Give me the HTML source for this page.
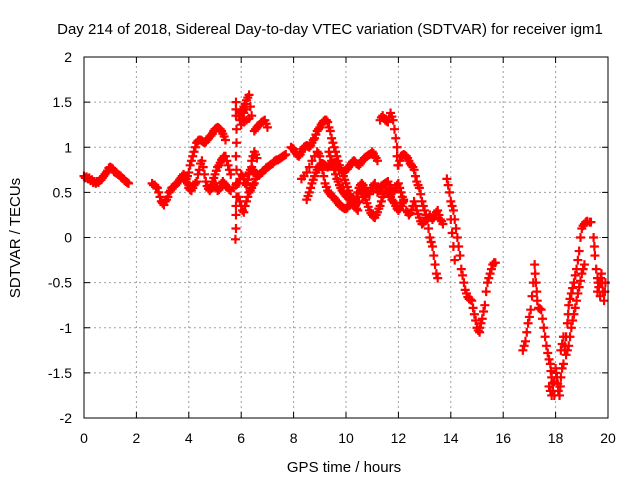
<!DOCTYPE html>
<html><head><meta charset="utf-8"><style>
body{margin:0;background:#fff}
svg{display:block}
text{font-family:"Liberation Sans",sans-serif;font-size:14px;fill:#000}
</style></head><body>
<svg id="chart" width="640" height="480" xmlns="http://www.w3.org/2000/svg">
<rect width="640" height="480" fill="#fff"/>
<text x="330" y="34" text-anchor="middle" style="font-size:15px">Day 214 of 2018, Sidereal Day-to-day VTEC variation (SDTVAR) for receiver igm1</text>
<text x="344" y="472" text-anchor="middle" style="font-size:15px">GPS time / hours</text>
<text transform="translate(20,238) rotate(-90)" text-anchor="middle" style="font-size:15px">SDTVAR / TECUs</text>
<g id="grid"></g><g id="ticks"></g><g id="marks"></g>
<rect x="84" y="57" width="524" height="361" fill="none" stroke="#000" stroke-width="1"/>
</svg>
<script>
const xTicks=[0,2,4,6,8,10,12,14,16,18,20];
const yTicks=[2,1.5,1,0.5,0,-0.5,-1,-1.5,-2];
const yTickLabels=["2","1.5","1","0.5","0","-0.5","-1","-1.5","-2"];
const track1=[[0,0.68],[0.05,0.66],[0.1,0.67],[0.15,0.65],[0.2,0.66],[0.25,0.63],[0.3,0.64],[0.35,0.61],[0.4,0.62],[0.45,0.6],[0.5,0.62],[0.55,0.61],[0.6,0.63],[0.65,0.64],[0.7,0.66],[0.75,0.68],[0.8,0.7],[0.85,0.72],[0.9,0.74],[0.95,0.77],[1.0,0.78],[1.05,0.77],[1.1,0.76],[1.15,0.73],[1.2,0.72],[1.25,0.71],[1.3,0.7],[1.35,0.69],[1.4,0.68],[1.45,0.66],[1.5,0.65],[1.55,0.63],[1.6,0.62],[1.65,0.61],[1.7,0.6]];
const track2=[[2.6,0.6],[2.65,0.58],[2.7,0.58],[2.75,0.56],[2.8,0.55],[2.85,0.5],[2.9,0.45],[2.95,0.4],[3.0,0.38],[3.05,0.36],[3.1,0.4],[3.15,0.42],[3.2,0.45],[3.25,0.5],[3.3,0.52],[3.35,0.55],[3.4,0.56],[3.45,0.57],[3.5,0.58],[3.55,0.6],[3.6,0.62],[3.65,0.64],[3.7,0.66],[3.75,0.68],[3.8,0.7],[3.85,0.67],[3.9,0.65],[3.95,0.6],[4.0,0.58]];
const track3=[[4.0,0.55],[4.05,0.53],[4.1,0.52],[4.15,0.55],[4.2,0.58],[4.25,0.6],[4.3,0.62],[4.35,0.7],[4.4,0.75],[4.45,0.82],[4.5,0.85],[4.55,0.78],[4.6,0.7],[4.65,0.62],[4.7,0.57],[4.75,0.54],[4.8,0.52],[4.85,0.54],[4.9,0.55],[4.95,0.58],[5.0,0.6],[5.05,0.55],[5.1,0.52],[5.15,0.53],[5.2,0.55],[5.25,0.6],[5.3,0.62],[5.35,0.6],[5.4,0.58],[5.45,0.56],[5.5,0.55],[5.55,0.53],[5.6,0.52]];
const track4=[[3.9,0.62],[3.95,0.68],[4.0,0.72],[4.05,0.8],[4.1,0.85],[4.15,0.9],[4.2,0.95],[4.25,1.0],[4.3,1.05],[4.35,1.07],[4.4,1.08],[4.45,1.08],[4.5,1.07],[4.55,1.06],[4.6,1.05],[4.65,1.06],[4.7,1.08],[4.75,1.1],[4.8,1.12],[4.85,1.13],[4.9,1.15],[4.95,1.18],[5.0,1.2],[5.05,1.21],[5.1,1.22],[5.15,1.21],[5.2,1.2],[5.25,1.18],[5.3,1.15],[5.35,1.12],[5.4,1.08]];
const track5=[[4.8,0.55],[4.85,0.58],[4.9,0.62],[4.95,0.66],[5.0,0.7],[5.05,0.74],[5.1,0.78],[5.15,0.8],[5.2,0.83],[5.25,0.86],[5.3,0.88],[5.35,0.9],[5.4,0.9],[5.45,0.85],[5.5,0.8],[5.55,0.75],[5.6,0.7]];
const track6=[[5.8,1.5],[5.8,1.42],[5.8,1.35],[5.82,1.2],[5.82,1.05],[5.8,0.9],[5.82,0.75],[5.82,0.6],[5.82,0.45],[5.8,0.35],[5.8,0.25],[5.8,0.1],[5.78,-0.02]];
const track7=[[5.9,1.35],[5.95,1.38],[6.0,1.4],[6.05,1.42],[6.1,1.45],[6.15,1.48],[6.2,1.52],[6.25,1.55],[6.3,1.58],[6.35,1.45],[6.4,1.35],[6.3,1.32],[6.2,1.3],[6.1,1.28],[6.0,1.25],[6.05,1.32],[6.1,1.38],[6.2,1.42],[5.95,1.3]];
const track8=[[6.5,1.18],[6.55,1.2],[6.6,1.22],[6.65,1.24],[6.7,1.25],[6.75,1.27],[6.8,1.28],[6.85,1.29],[6.9,1.3],[6.95,1.26],[7.0,1.22]];
const track9=[[5.7,0.55],[5.8,0.58],[5.9,0.6],[5.95,0.65],[6.0,0.7],[6.05,0.68],[6.1,0.65],[6.15,0.6],[6.2,0.58],[6.25,0.64],[6.3,0.7],[6.35,0.75],[6.4,0.78],[6.45,0.75],[6.5,0.72],[6.55,0.7],[6.6,0.68],[6.65,0.69],[6.7,0.7],[6.75,0.71],[6.8,0.72],[6.85,0.74],[6.9,0.75],[6.95,0.77],[7.0,0.78],[7.05,0.79],[7.1,0.8],[7.15,0.81],[7.2,0.82],[7.25,0.84],[7.3,0.85],[7.35,0.86],[7.4,0.86],[7.45,0.87],[7.5,0.88],[7.55,0.89],[7.6,0.9],[7.65,0.91],[7.7,0.92]];
const track10=[[5.9,0.45],[5.95,0.4],[6.0,0.35],[6.05,0.3],[6.1,0.28],[6.15,0.35],[6.2,0.4],[6.25,0.45],[6.3,0.5],[6.35,0.52],[6.4,0.55],[6.45,0.58],[6.5,0.6],[6.55,0.65],[6.6,0.7],[6.2,0.6],[6.3,0.72],[6.4,0.85],[6.45,0.9],[6.5,0.95],[6.55,0.92],[6.6,0.88]];
const track11=[[7.9,1.0],[7.95,0.99],[8.0,0.98],[8.05,0.95],[8.1,0.93],[8.15,0.91],[8.2,0.9],[8.25,0.92],[8.3,0.95],[8.35,0.98],[8.4,1.0],[8.45,1.01],[8.5,1.02],[8.55,1.01],[8.6,1.0],[8.65,1.02],[8.7,1.05],[8.75,1.08],[8.8,1.1],[8.85,1.14],[8.9,1.18],[8.95,1.2],[9.0,1.22],[9.05,1.25],[9.1,1.27],[9.15,1.29],[9.2,1.3],[9.25,1.3],[9.3,1.28],[9.35,1.22],[9.4,1.18],[9.45,1.1],[9.5,1.05],[9.55,1.0],[9.6,0.95],[9.65,0.9],[9.7,0.85],[9.75,0.8],[9.8,0.75],[9.85,0.72],[9.9,0.68],[9.95,0.64],[10.0,0.6],[10.05,0.56],[10.1,0.52],[10.15,0.48],[10.2,0.45],[10.25,0.43],[10.3,0.42],[10.35,0.4],[10.4,0.38],[10.45,0.39],[10.5,0.4]];
const track12=[[8.5,0.42],[8.55,0.46],[8.6,0.5],[8.65,0.55],[8.7,0.6],[8.75,0.64],[8.8,0.68],[8.85,0.72],[8.9,0.75],[8.95,0.78],[9.0,0.8],[9.05,0.81],[9.1,0.82],[9.15,0.81],[9.2,0.8],[9.25,0.79],[9.3,0.78],[9.35,0.79],[9.4,0.8],[9.45,0.81],[9.5,0.82],[9.55,0.83],[9.6,0.83],[9.65,0.82],[9.7,0.8],[9.75,0.77],[9.8,0.75],[9.85,0.73],[9.9,0.72],[9.95,0.73],[10.0,0.75],[10.05,0.76],[10.1,0.78],[10.15,0.8],[10.2,0.82],[10.25,0.84],[10.3,0.85],[10.35,0.84],[10.4,0.82],[10.45,0.81],[10.5,0.8],[10.55,0.82],[10.6,0.84],[10.65,0.86],[10.7,0.88],[10.75,0.89],[10.8,0.9],[10.85,0.91],[10.9,0.92],[10.95,0.93],[11.0,0.95],[11.05,0.93],[11.1,0.9],[11.15,0.88],[11.2,0.85]];
const track13=[[8.3,0.65],[8.4,0.68],[8.5,0.72],[8.6,0.78],[8.7,0.85],[8.8,0.9],[8.9,0.95],[8.95,0.93],[9.0,0.9],[9.05,0.82],[9.1,0.75],[9.15,0.68],[9.2,0.6],[9.25,0.56],[9.3,0.52],[9.35,0.5],[9.4,0.48],[9.45,0.46],[9.5,0.45],[9.55,0.44],[9.6,0.42],[9.65,0.4],[9.7,0.38],[9.75,0.36],[9.8,0.35],[9.85,0.34],[9.9,0.33],[9.95,0.32],[10.0,0.32],[10.05,0.33],[10.1,0.35],[10.15,0.36],[10.2,0.38]];
const track14=[[9.35,0.95],[9.4,0.9],[9.45,0.85],[9.5,0.8],[9.55,0.75],[9.6,0.7],[9.65,0.65],[9.7,0.62],[9.75,0.58],[9.8,0.55],[9.85,0.52],[9.9,0.5],[9.95,0.48],[10.0,0.46],[10.05,0.45],[10.1,0.43],[10.15,0.42],[10.2,0.4],[10.25,0.38],[10.3,0.36],[10.35,0.35],[10.4,0.32],[10.45,0.3]];
const track15=[[10.4,0.45],[10.45,0.5],[10.5,0.55],[10.55,0.52],[10.6,0.5],[10.65,0.48],[10.7,0.45],[10.75,0.42],[10.8,0.38],[10.85,0.34],[10.9,0.3],[10.95,0.27],[11.0,0.25],[11.05,0.23],[11.1,0.22],[11.15,0.25],[11.2,0.28],[11.25,0.32],[11.3,0.35],[11.35,0.4],[11.4,0.45],[11.45,0.48],[11.5,0.52],[11.55,0.51],[11.6,0.5],[11.65,0.48],[11.7,0.45],[11.75,0.42],[11.8,0.4],[11.85,0.38],[11.9,0.35],[11.95,0.32],[12.0,0.3],[12.05,0.32],[12.1,0.35],[12.15,0.38],[12.2,0.42]];
const track16=[[10.5,0.55],[10.55,0.58],[10.6,0.6],[10.65,0.58],[10.7,0.55],[10.75,0.52],[10.8,0.5],[10.85,0.49],[10.9,0.48],[10.95,0.52],[11.0,0.55],[11.05,0.58],[11.1,0.6],[11.15,0.55],[11.2,0.5],[11.25,0.52],[11.3,0.55],[11.35,0.57],[11.4,0.58],[11.45,0.59],[11.5,0.6],[11.55,0.61],[11.6,0.62],[11.65,0.58],[11.7,0.55],[11.75,0.52],[11.8,0.5],[11.85,0.52],[11.9,0.55],[11.95,0.58],[12.0,0.6],[12.05,0.55],[12.1,0.5],[12.15,0.45],[12.2,0.4]];
const track17=[[11.3,1.3],[11.35,1.33],[11.4,1.35],[11.45,1.32],[11.5,1.3],[11.55,1.29],[11.6,1.28],[11.65,1.33],[11.7,1.38],[11.75,1.34],[11.8,1.3],[11.85,1.2],[11.9,1.1],[11.95,1.0],[11.95,0.9],[11.98,0.8]];
const track18=[[12.0,0.8],[12.05,0.85],[12.1,0.9],[12.15,0.91],[12.2,0.92],[12.25,0.91],[12.3,0.9],[12.35,0.88],[12.4,0.85],[12.45,0.82],[12.5,0.8],[12.55,0.78],[12.6,0.75],[12.65,0.68],[12.7,0.62],[12.75,0.58],[12.8,0.55],[12.85,0.48],[12.9,0.4],[12.95,0.35],[13.0,0.3],[13.05,0.25],[13.1,0.2],[13.15,0.1],[13.2,0.0],[13.25,-0.05],[13.3,-0.1],[13.35,-0.2],[13.4,-0.3],[13.45,-0.4],[13.5,-0.45]];
const track19=[[12.3,0.3],[12.35,0.28],[12.4,0.25],[12.45,0.27],[12.5,0.3],[12.55,0.35],[12.6,0.4],[12.65,0.35],[12.7,0.3],[12.75,0.26],[12.8,0.22],[12.85,0.18],[12.9,0.15],[12.95,0.16],[13.0,0.18],[13.05,0.19],[13.1,0.2],[13.15,0.22],[13.2,0.25],[13.25,0.22],[13.3,0.2],[13.35,0.22],[13.4,0.25],[13.45,0.28],[13.5,0.3],[13.55,0.25],[13.6,0.2],[13.65,0.18],[13.7,0.15]];
const track20=[[13.85,0.65],[13.9,0.58],[13.95,0.5],[14.0,0.4],[14.05,0.35],[14.1,0.3],[14.15,0.2],[14.2,0.1],[14.25,0.0],[14.3,-0.1],[14.35,-0.2],[14.4,-0.35],[14.45,-0.42],[14.5,-0.5],[14.55,-0.58],[14.6,-0.62],[14.65,-0.66],[14.7,-0.68],[14.75,-0.69],[14.8,-0.7],[14.85,-0.78],[14.9,-0.85],[14.95,-0.92],[15.0,-1.0],[15.05,-1.03],[15.1,-1.05]];
const track21=[[14.0,0.2],[14.05,0.05],[14.1,-0.1],[14.15,-0.25]];
const track22=[[15.1,-1.0],[15.15,-0.95],[15.2,-0.9],[15.25,-0.82],[15.3,-0.75],[15.35,-0.6],[15.4,-0.5],[15.45,-0.45],[15.5,-0.4],[15.55,-0.35],[15.6,-0.3],[15.65,-0.28],[15.7,-0.28]];
const track23=[[16.75,-1.25],[16.8,-1.2],[16.85,-1.15],[16.9,-1.05],[16.95,-0.95],[17.0,-0.88],[17.05,-0.8],[17.1,-0.65],[17.15,-0.5],[17.2,-0.3],[17.22,-0.4],[17.25,-0.5],[17.28,-0.6],[17.3,-0.7],[17.35,-0.78],[17.4,-0.79],[17.45,-0.8],[17.5,-0.9],[17.55,-1.0],[17.6,-1.1],[17.65,-1.2],[17.7,-1.28],[17.75,-1.35]];
const track24=[[17.8,-1.4],[17.82,-1.48],[17.85,-1.55],[17.88,-1.62],[17.9,-1.7],[17.95,-1.6],[18.0,-1.45],[18.02,-1.5],[18.05,-1.55],[18.08,-1.62],[18.1,-1.7],[18.15,-1.75],[18.18,-1.65],[18.2,-1.55],[18.25,-1.45],[17.75,-1.65],[17.8,-1.7],[17.85,-1.75],[17.95,-1.75]];
const track25=[[18.3,-1.4],[18.35,-1.25],[18.4,-1.1],[18.45,-0.95],[18.48,-0.85],[18.5,-0.75],[18.55,-0.68],[18.6,-0.62],[18.65,-0.56],[18.7,-0.5],[18.75,-0.42],[18.8,-0.35],[18.85,-0.25],[18.9,-0.15],[18.95,0.0],[19.0,0.1],[19.05,0.13],[19.1,0.15],[19.15,0.17],[19.2,0.18],[19.3,0.17],[19.35,0.17]];
const track26=[[18.2,-1.25],[18.25,-1.18],[18.3,-1.1],[18.35,-1.2],[18.4,-1.3],[18.45,-1.25],[18.5,-1.2],[18.55,-1.1],[18.6,-1.0],[18.65,-0.92],[18.7,-0.85],[18.75,-0.78],[18.8,-0.7],[18.85,-0.62],[18.9,-0.55],[18.95,-0.48],[19.0,-0.4],[19.05,-0.35],[19.1,-0.3]];
const track27=[[19.45,0.0],[19.48,-0.1],[19.5,-0.2],[19.55,-0.35],[19.6,-0.45],[19.62,-0.5],[19.65,-0.55],[19.7,-0.5],[19.72,-0.45],[19.75,-0.4],[19.78,-0.5],[19.8,-0.6],[19.85,-0.7],[19.88,-0.6],[19.9,-0.5],[19.6,-0.6],[19.7,-0.65]];
const tracks=[track1,track2,track3,track4,track5,track6,track7,track8,track9,track10,track11,track12,track13,track14,track15,track16,track17,track18,track19,track20,track21,track22,track23,track24,track25,track26,track27];

const NS="http://www.w3.org/2000/svg";
const X0=84,X1=608,Y0=418,Y1=57;
function xs(h){return X0+(h-0)/(20-0)*(X1-X0);}
function ys(v){return Y0-(v+2)/4*(Y0-Y1);}
function mk(tag,attrs,parent){const e=document.createElementNS(NS,tag);for(const k in attrs)e.setAttribute(k,attrs[k]);parent.appendChild(e);return e;}
const grid=document.getElementById('grid'),ticks=document.getElementById('ticks'),marks=document.getElementById('marks');
xTicks.forEach(t=>{
  const x=xs(t);
  if(t>0&&t<20){const g=mk('line',{x1:x,x2:x,y1:Y0,y2:Y1,stroke:'#a0a0a0','stroke-dasharray':'2,3'},grid);
  
  }
  mk('line',{x1:x,x2:x,y1:Y0,y2:Y0-6,stroke:'#000'},ticks);
  mk('line',{x1:x,x2:x,y1:Y1,y2:Y1+6,stroke:'#000'},ticks);
  const l=mk('text',{x:x,y:443,'text-anchor':'middle'},ticks);l.textContent=String(t);
  
  
});
yTicks.forEach((t,i)=>{
  const y=ys(t);
  if(t>-2&&t<2){const g=mk('line',{x1:X0,x2:X1,y1:y,y2:y,stroke:'#a0a0a0','stroke-dasharray':'2,3'},grid);
  
  }
  mk('line',{x1:X0,x2:X0+6,y1:y,y2:y,stroke:'#000'},ticks);
  mk('line',{x1:X1,x2:X1-6,y1:y,y2:y,stroke:'#000'},ticks);
  const l=mk('text',{x:72,y:y+5,'text-anchor':'end'},ticks);l.textContent=yTickLabels[i];
  
  
});
tracks.forEach((tr,ti)=>{
  const g=mk('g',{stroke:'#ff0000','stroke-width':'2.2'},marks);
  
  
  tr.forEach(p=>{
    const x=xs(p[0]),y=ys(p[1]);
    const pt=mk('path',{d:`M${x-4.5},${y}H${x+4.5}M${x},${y-4.5}V${y+4.5}`},g);
    
    
  });
});
</script>
</body></html>
